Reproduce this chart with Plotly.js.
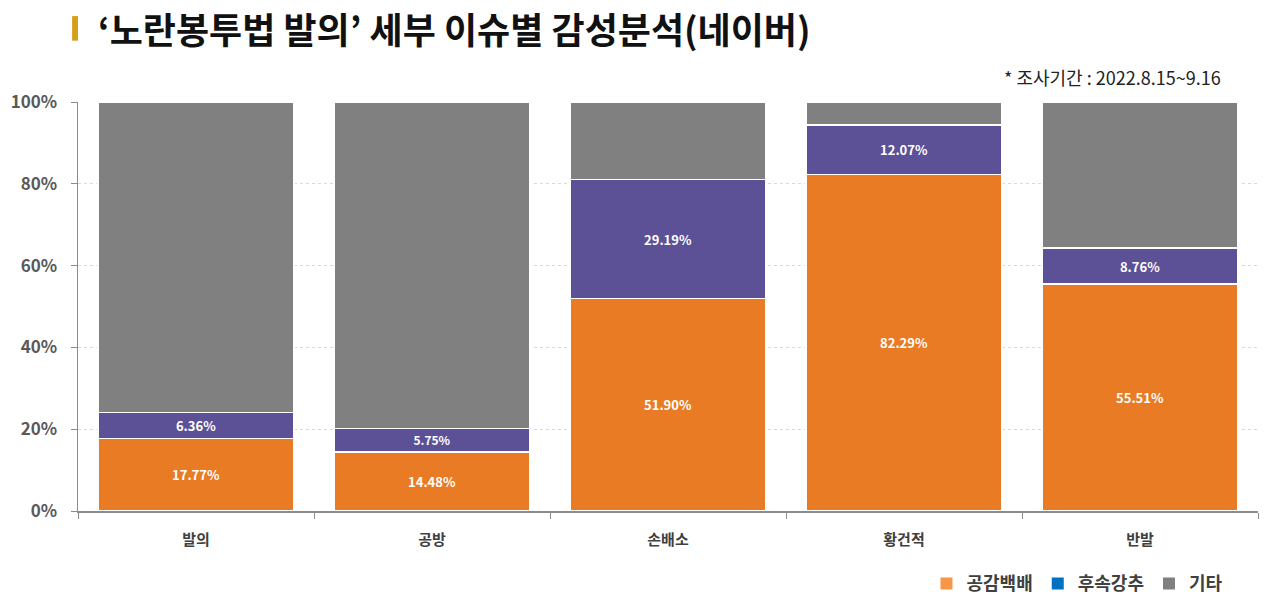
<!DOCTYPE html>
<html>
<head>
<meta charset="utf-8">
<script src="https://cdn.plot.ly/plotly-3.0.1.min.js"></script>
<style>
    html, body { margin: 0; padding: 0; background: #fff; }
    #chart { width: 1280px; height: 608px; }
</style>
</head>
<body>
<div id="chart"></div>
<script>
    var categories = ['발의', '공방', '손배소', '황건적', '반발'];
    var empathy = [17.77, 14.48, 51.90, 82.29, 55.51];   // 공감백배
    var followUp = [6.36, 5.75, 29.19, 12.07, 8.76];      // 후속강추
    var other = [75.87, 79.77, 18.91, 5.64, 35.73];       // 기타

    var KR = '"Noto Sans CJK KR", "Noto Sans", sans-serif';

    function pct(arr) {
        return arr.map(function (v) { return v.toFixed(2) + '%'; });
    }

    function segment(name, values, color, labels) {
        return {
            x: categories,
            y: values,
            name: name,
            type: 'bar',
            showlegend: false,
            text: labels ? pct(values) : null,
            textposition: labels ? 'inside' : 'none',
            insidetextanchor: 'middle',
            textfont: { family: KR, size: 13, color: '#ffffff', weight: 'bold' },
            marker: { color: color, line: { color: '#ffffff', width: 1.5 } },
            hoverinfo: 'none'
        };
    }

    // legend-only entries so the swatches keep the original legend colours
    function legendItem(name, color) {
        return {
            x: [null],
            y: [null],
            name: name,
            type: 'bar',
            marker: { color: color },
            hoverinfo: 'none'
        };
    }

    var data = [
        segment('공감백배', empathy, '#E97B24', true),
        segment('후속강추', followUp, '#5C5096', true),
        segment('기타', other, '#808080', false),
        legendItem('공감백배', '#F79646'),
        legendItem('후속강추', '#0070C0'),
        legendItem('기타', '#808080')
    ];

    var layout = {
        width: 1280,
        height: 608,
        barmode: 'stack',
        bargap: 0.17,
        paper_bgcolor: '#ffffff',
        plot_bgcolor: '#ffffff',
        font: { family: KR, color: '#404040' },
        margin: { l: 78, r: 22, t: 102, b: 97 },
        xaxis: {
            showline: true,
            linecolor: '#8c8c8c',
            linewidth: 1.5,
            ticks: 'outside',
            tickson: 'boundaries',
            ticklen: 6,
            tickcolor: '#8c8c8c',
            ticklabelstandoff: 14,
            tickfont: { family: KR, size: 15, color: '#404040', weight: 'bold' },
            showgrid: false,
            automargin: false
        },
        yaxis: {
            range: [0, 100],
            dtick: 20,
            ticksuffix: '%',
            showline: true,
            linecolor: '#8c8c8c',
            linewidth: 1.5,
            ticks: 'outside',
            ticklen: 6,
            tickcolor: '#8c8c8c',
            ticklabelstandoff: 10,
            tickfont: { family: KR, size: 17, color: '#595959', weight: 'bold' },
            showgrid: true,
            gridcolor: '#d9d9d9',
            griddash: 'dot',
            zeroline: false,
            automargin: false
        },
        legend: {
            orientation: 'h',
            x: 0.975,
            xanchor: 'right',
            yref: 'container',
            y: 0.04,
            yanchor: 'middle',
            font: { family: KR, size: 18, color: '#404040', weight: 'bold' },
            itemwidth: 30,
            traceorder: 'normal'
        },
        shapes: [
            { type: 'rect', xref: 'paper', yref: 'paper', x0: -0.005, x1: 0, y0: 1.15, y1: 1.21,
              fillcolor: '#D4A017', line: { width: 0 } }
        ],
        annotations: [
            {
                text: '‘노란봉투법 발의’ 세부 이슈별 감성분석(네이버)',
                xref: 'paper', yref: 'paper', x: 0.015, y: 1.18,
                xanchor: 'left', yanchor: 'middle', showarrow: false,
                font: { family: KR, size: 36, color: '#111111', weight: 'bold' }
            },
            {
                text: '* 조사기간 : 2022.8.15~9.16',
                xref: 'paper', yref: 'paper', x: 0.97, y: 1.06,
                xanchor: 'right', yanchor: 'middle', showarrow: false,
                font: { family: KR, size: 18, color: '#222222' }
            }
        ]
    };

    Plotly.newPlot(document.getElementById('chart'), data, layout, { displayModeBar: false, staticPlot: true });
</script>
</body>
</html>
